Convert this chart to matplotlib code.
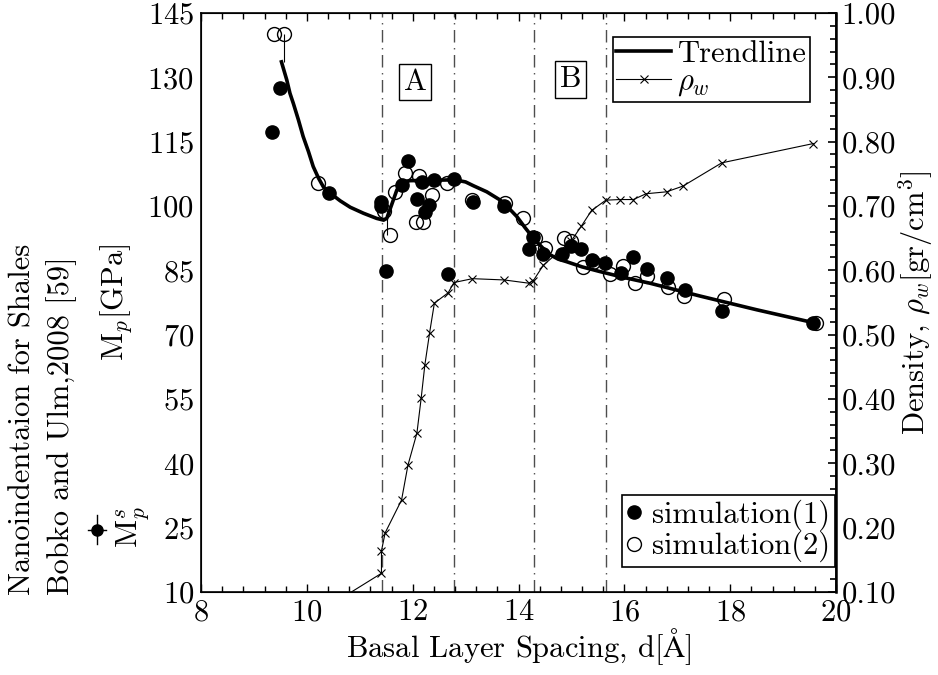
import matplotlib
matplotlib.use("Agg")
import matplotlib.pyplot as plt
from matplotlib.lines import Line2D
from matplotlib.ticker import MultipleLocator, FormatStrFormatter

plt.rcParams['font.family'] = 'serif'
plt.rcParams['font.serif'] = ['cmr10']
plt.rcParams['mathtext.fontset'] = 'cm'
plt.rcParams['axes.unicode_minus'] = False
plt.rcParams['axes.formatter.use_mathtext'] = True

# simulation(1): filled circles
sim1_x = [9.34, 9.49, 10.41, 11.41, 11.41, 11.50, 11.80, 11.92, 12.09, 12.17, 12.23, 12.31,
          12.40, 12.67, 12.78, 13.14, 13.73, 14.19, 14.28, 14.47, 14.83, 14.99, 15.19,
          15.38, 15.64, 15.94, 16.17, 16.42, 16.80, 17.14, 17.84, 19.57]
sim1_y = [117.2, 127.4, 103.1, 101.0, 100.0, 84.9, 104.9, 110.5, 101.6, 105.7, 98.7, 100.3,
          106.1, 84.1, 106.4, 101.0, 100.0, 89.9, 92.7, 88.8, 88.8, 90.7, 89.9,
          87.4, 86.6, 84.4, 88.2, 85.4, 83.1, 80.4, 75.6, 72.6]

# simulation(2): open circles
sim2_x = [9.37, 9.56, 10.22, 11.46, 11.57, 11.67, 11.86, 12.06, 12.11, 12.19, 12.36, 12.65,
          13.12, 13.75, 14.08, 14.31, 14.50, 14.85, 14.99, 15.22, 15.40, 15.72, 15.97,
          16.20, 16.42, 16.83, 17.13, 17.88, 19.63]
sim2_y = [140.0, 140.0, 105.4, 98.8, 93.2, 103.3, 107.6, 96.3, 107.0, 96.3, 102.6, 105.4,
          101.5, 100.8, 97.2, 92.5, 90.1, 92.5, 91.9, 85.8, 87.0, 84.2, 86.1,
          82.1, 83.7, 81.0, 79.0, 78.2, 72.6]

# whiskers on a few simulation(2) points
whisk_x = [9.56, 11.51]
whisk_lo = [133.6, 93.2]
whisk_hi = [140.0, 99.1]

# trendline
trend_x = [9.52, 9.62, 9.68, 9.745, 9.84, 9.93, 10.03, 10.12, 10.22, 10.31, 10.44, 10.63,
           10.82, 11.07, 11.32, 11.45, 11.51, 11.60, 11.70, 11.79, 11.95, 12.4, 12.8,
           13.0, 13.15, 13.40, 13.65, 13.8, 13.97, 14.12, 14.28, 14.45, 14.60, 14.75,
           14.91, 15.2, 15.54, 16.0, 16.48, 17.43, 18.5, 19.57]
trend_y = [133.6, 129.4, 126.3, 123.9, 120.1, 116.2, 112.7, 109.2, 106.5, 104.5, 103.0, 101.2,
           99.7, 98.3, 97.1, 96.7, 97.1, 100.2, 103.7, 105.4, 105.9, 106.0, 106.1,
           105.6, 104.7, 103.3, 101.4, 99.7, 97.5, 95.0, 92.5, 90.3, 88.6, 87.6,
           87.0, 85.8, 84.7, 83.3, 82.0, 79.0, 75.8, 72.8]

# water density rho_w (right axis)
rho_x = [10.0, 11.41, 11.41, 11.48, 11.79, 11.91, 12.08, 12.16, 12.23, 12.32, 12.41, 12.67,
         12.78, 13.13, 13.73, 14.19, 14.28, 14.47, 14.99, 15.19, 15.38, 15.65, 15.92,
         16.17, 16.41, 16.80, 17.11, 17.84, 19.57]
rho_y = [0.057, 0.129, 0.164, 0.192, 0.243, 0.297, 0.347, 0.401, 0.453, 0.503, 0.549, 0.565,
         0.581, 0.587, 0.585, 0.580, 0.584, 0.608, 0.645, 0.669, 0.693, 0.709, 0.710,
         0.710, 0.719, 0.722, 0.731, 0.767, 0.797]

region_lines = [11.42, 12.78, 14.30, 15.66]
region_labels = [("A", 12.05, 128.9), ("B", 14.98, 129.5)]
left_ticks = list(range(10, 146, 15))

FS = 22

fig = plt.figure(figsize=(9.38, 6.75), dpi=100)
ax = fig.add_axes([0.2143, 0.1230, 0.677, 0.8578])
ax2 = ax.twinx()

for xv in region_lines:
    ax.axvline(xv, color='0.3', lw=1.0, ls=(0, (9, 4, 1, 4)), zorder=1)

ax.vlines(whisk_x, whisk_lo, whisk_hi, color='black', lw=0.8, zorder=2)
tl, = ax.plot(trend_x, trend_y, color='black', lw=2.6, zorder=3, label='Trendline',
              solid_joinstyle='round')
s1, = ax.plot(sim1_x, sim1_y, 'o', color='black', ms=9.5, ls='none', zorder=4,
              label='simulation(1)')
s2, = ax.plot(sim2_x, sim2_y, 'o', mfc='none', mec='black', mew=1.0, ms=10, ls='none',
              zorder=4, label='simulation(2)')
rl, = ax2.plot(rho_x, rho_y, color='black', lw=0.8, marker='x', ms=6, mew=0.8,
               label=r'$\rho_w$')

for txt, xv, yv in region_labels:
    ax.text(xv, yv, txt, fontsize=FS, ha='center', va='center', zorder=5,
            bbox=dict(boxstyle='square,pad=0.15', fc='white', ec='black', lw=1.0))

ax.set_xlim(8, 20)
ax.set_ylim(10, 145)
ax2.set_ylim(0.1, 1.0)
ax.xaxis.set_major_locator(MultipleLocator(2))
ax.xaxis.set_minor_locator(MultipleLocator(0.4))
ax.set_yticks(left_ticks)
ax2.yaxis.set_major_locator(MultipleLocator(0.1))
ax2.yaxis.set_minor_locator(MultipleLocator(0.02))
ax2.yaxis.set_major_formatter(FormatStrFormatter('%.2f'))

ax.tick_params(axis='x', which='both', direction='in', top=True, labelsize=FS, pad=5)
ax.tick_params(axis='x', which='major', length=6, width=1)
ax.tick_params(axis='x', which='minor', length=4, width=1)
ax.tick_params(axis='y', which='both', direction='in', length=0, labelsize=FS, pad=5)
ax2.tick_params(axis='y', which='major', direction='in', length=6, width=1.2, labelsize=FS, pad=4)
ax2.tick_params(axis='y', which='minor', direction='in', length=4, width=1.2)
for sp in ax.spines.values():
    sp.set_linewidth(1.2)
ax2.spines['right'].set_linewidth(1.8)

ax.set_xlabel(r'Basal Layer Spacing, d[$\mathrm{\AA}$]', fontsize=FS, labelpad=0)
ax.set_ylabel(r'$\mathrm{M}_p$[GPa]', fontsize=FS, labelpad=10)
ax2.set_ylabel(r'Density, $\rho_w$[gr/cm$^3$]', fontsize=FS, labelpad=0)

leg1 = ax2.legend(handles=[tl, rl], loc='upper right', bbox_to_anchor=(0.959, 0.9585),
                  borderaxespad=0, fontsize=FS, fancybox=False, edgecolor='black',
                  framealpha=1, handlelength=1.8, handletextpad=0.2, labelspacing=0.0,
                  borderpad=0.12)
leg1.get_frame().set_linewidth(1.2)
ax2.add_artist(leg1)
leg2 = ax2.legend(handles=[s1, s2], loc='lower right', bbox_to_anchor=(0.998, 0.043),
                  borderaxespad=0, fontsize=FS, fancybox=False, edgecolor='black',
                  framealpha=1, handlelength=0.5, handletextpad=0.35, labelspacing=0.0,
                  borderpad=0.15)
leg2.get_frame().set_linewidth(1.2)

# rotated key at the far left
fig.text(0.0245, 0.1185, 'Nanoindentaion for Shales', rotation=90, fontsize=FS,
         ha='center', va='bottom')
fig.text(0.066, 0.1185, 'Bobko and Ulm,2008 [59]', rotation=90, fontsize=FS,
         ha='center', va='bottom')
fig.text(0.1418, 0.2193, r'$\mathrm{M}_p^s$', rotation=90, fontsize=FS,
         ha='center', va='center')
kx, ky = 97 / 938, 1 - 530 / 675
fig.add_artist(Line2D([kx, kx], [ky - 14 / 675, ky + 15 / 675], transform=fig.transFigure,
                      color='black', lw=1))
fig.add_artist(Line2D([kx - 9 / 938, kx + 9 / 938], [ky, ky], transform=fig.transFigure,
                      color='black', lw=1))
fig.add_artist(Line2D([kx], [ky], transform=fig.transFigure, marker='o', ms=8,
                      color='black', ls='none'))

fig.savefig('out.png', dpi=100)
